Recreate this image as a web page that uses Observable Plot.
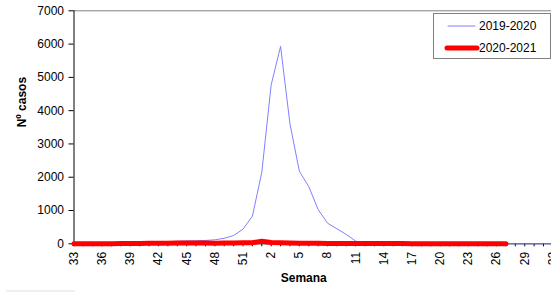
<!DOCTYPE html>
<html>
<head>
<meta charset="utf-8">
<script src="https://cdn.jsdelivr.net/npm/d3@7"></script>
<script src="https://cdn.jsdelivr.net/npm/@observablehq/plot@0.6"></script>
<style>
  html, body { margin: 0; padding: 0; background: #fff; }
  #wrap { position: relative; width: 551px; height: 292px; overflow: hidden; font-family: "Liberation Sans", Arial, sans-serif; }
  #legend { position: absolute; left: 433px; top: 13px; width: 116px; height: 44px; border: 1px solid #808080; background: #fff; font-size: 12px; color: #000; }
  .item { position: absolute; left: 0; height: 16px; }
  .item svg { position: absolute; left: 10px; top: 0; }
  .item span { position: absolute; left: 45px; top: 1px; white-space: nowrap; }
  #scroll { position: absolute; left: 6px; top: 290px; width: 69px; height: 2px; background: #f0f0f0; }
</style>
</head>
<body>
<div id="wrap"><div id="chart"></div>
  <div id="legend"></div>
  <div id="scroll"></div>
</div>
<script>
// Week labels (season runs from week 33 to week 32)
const weekLabels = [33,34,35,36,37,38,39,40,41,42,43,44,45,46,47,48,49,50,51,52,
  1,2,3,4,5,6,7,8,9,10,11,12,13,14,15,16,17,18,19,20,21,22,23,24,25,26,27,28,29,30,31,32];
const seriesNames = ["2019-2020", "2020-2021"];
// Nº casos 2019-2020 (weeks 33..32)
const casos2019 = [10,12,14,16,20,25,30,35,45,
  55,65,75,85,90,100,120,165,250,440,830,
  2150,4780,5930,3600,2180,1720,1030,620,450,280,80,20,
  0,0,0,0,0,0,0,0,0,0,0,0,0,0,0,0,0,0,0,0];
// Nº casos 2020-2021 (weeks 33..27)
const casos2020 = [5,5,5,5,5,8,10,12,15,
  18,20,22,25,25,22,20,22,25,30,35,
  75,40,30,25,20,18,15,12,10,10,8,8,
  8,8,6,6,5,5,5,5,5,5,5,5,5,5,5];
const yTicks = [0,1000,2000,3000,4000,5000,6000,7000];
const labelEvery = 3;
const colors = ["#8080ff", "#ff0000"];

const rows2019 = casos2019.map((v, i) => ({i, week: weekLabels[i], value: v}));
const rows2020 = casos2020.map((v, i) => ({i, week: weekLabels[i], value: v}));
const allIdx = weekLabels.map((w, i) => i);
const labelIdx = allIdx.filter(i => i % labelEvery === 0);

const chart = Plot.plot({
  width: 551,
  height: 292,
  marginLeft: 73.5,
  marginRight: 0,
  marginTop: 10.3,
  marginBottom: 48.7,
  style: {fontFamily: "'Liberation Sans', Arial, sans-serif", fontSize: "12px", color: "#000", background: "#fff"},
  x: {domain: [0, weekLabels.length - 1], range: [73.5, 552.4]},
  y: {domain: [0, 7000]},
  marks: [
    Plot.ruleY([7000], {stroke: "#808080", strokeWidth: 1}),
    Plot.axisY({ticks: yTicks, tickSize: 5, tickPadding: 5, tickFormat: d => String(d), label: null, fontSize: 12}),
    Plot.axisX({ticks: allIdx, tickSize: 3, tickFormat: () => "", label: null}),
    Plot.axisX({ticks: labelIdx, tickSize: 0, tickPadding: 8, tickRotate: -90, tickFormat: i => String(weekLabels[i]), label: null, fontSize: 12}),
    Plot.ruleX([0], {stroke: "#000"}),
    Plot.ruleY([0], {stroke: "#000"}),
    Plot.lineY(rows2019, {x: "i", y: "value", stroke: colors[0], strokeWidth: 1}),
    Plot.lineY(rows2020, {x: "i", y: "value", stroke: colors[1], strokeWidth: 5, strokeLinecap: "round", strokeLinejoin: "round"}),
    Plot.text(["Semana"], {frameAnchor: "bottom", dy: 38, dx: -9, fontWeight: "bold", fontSize: 12}),
    Plot.text(["Nº casos"], {frameAnchor: "left", rotate: -90, dx: -52, fontWeight: "bold", fontSize: 12})
  ]
});
document.getElementById("chart").appendChild(chart);

// Legend
const legend = document.getElementById("legend");
seriesNames.forEach((name, k) => {
  const item = document.createElement("div");
  item.className = "item";
  item.style.top = (k === 0 ? 4 : 26) + "px";
  const w = k === 0 ? 1 : 5;
  item.innerHTML = `<svg width="36" height="16"><line x1="${k === 0 ? 4 : 3}" x2="${k === 0 ? 31 : 33}" y1="8" y2="8" stroke="${colors[k]}" stroke-width="${w}" stroke-linecap="round"/></svg><span>${name}</span>`;
  legend.appendChild(item);
});
</script>
</body>
</html>
